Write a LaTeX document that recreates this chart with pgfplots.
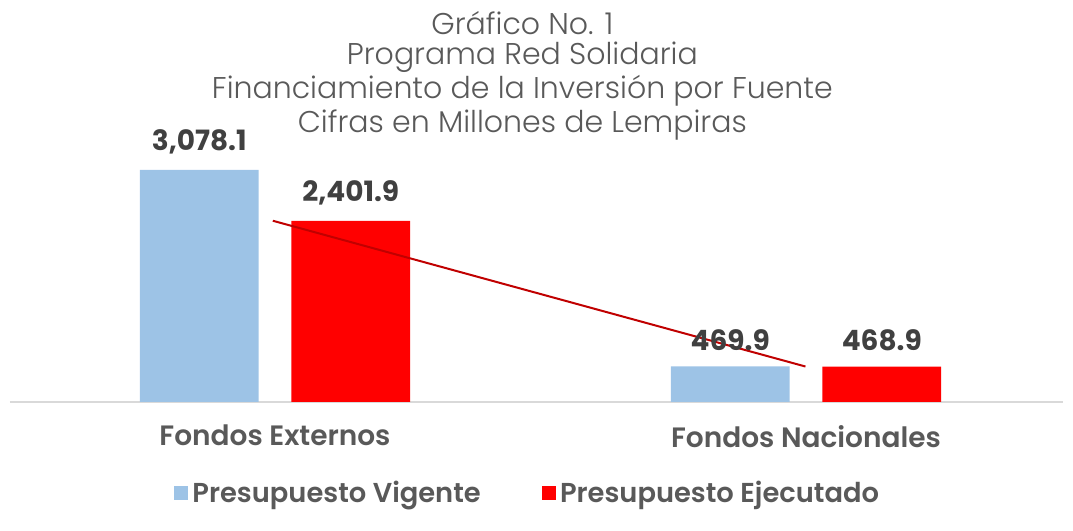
\documentclass[border=0pt]{standalone}
\usepackage{pgfplots}
\pgfplotsset{compat=1.18}
\usepackage{fontspec}
\setmainfont{Poppins}
\newfontfamily\lightfont{Poppins Light}
\newfontfamily\semifont{Poppins SemiBold}
\definecolor{bluebar}{HTML}{9DC3E6}
\definecolor{redbar}{HTML}{FF0000}
\definecolor{trend}{HTML}{C00000}
\definecolor{txt}{HTML}{595959}
\definecolor{lbl}{HTML}{404040}
\begin{document}
\begin{tikzpicture}
\useasboundingbox (-7.5pt,-96.75pt) rectangle (797.5pt,301.5pt);
\begin{axis}[
  at={(0,0)}, anchor=south west,
  scale only axis,
  width=790pt, height=198pt,
  xmin=-0.499, xmax=1.484, ymin=0, ymax=3500,
  axis x line=bottom, axis y line=none,
  x axis line style={draw=black!15, line width=1pt, -},
  xtick={0,1},
  xticklabels={Fondos Externos, Fondos Nacionales},
  major tick length=0pt,
  xticklabel style={font=\fontsize{21}{24}\selectfont\semifont, text=txt, yshift=-14pt},
  /pgf/number format/.cd, fixed, fixed zerofill, precision=1, 1000 sep={,}, assume math mode=true,
  /pgfplots/.cd,
  legend style={at={(0.492,-0.345)}, anchor=center, draw=none, legend columns=2,
    font=\fontsize{20.5}{24}\selectfont\semifont, text=txt,
    /tikz/every odd column/.append style={column sep=1pt},
    /tikz/every even column/.append style={column sep=44pt}},
  legend image code/.code={\fill[#1] (0pt,-5.25pt) rectangle (10.5pt,5.25pt);},
  nodes near coords style={font=\fontsize{21}{24}\selectfont\bfseries, text=lbl, yshift=8pt},
]
\addplot[ybar, bar width=89pt, bar shift=0pt, fill=bluebar, draw=none,
  nodes near coords] coordinates {(-0.1427,3078.1) (0.8573,469.9)};
\addlegendentry{Presupuesto Vigente}
\addplot[ybar, bar width=89pt, bar shift=0pt, fill=redbar, draw=none,
  nodes near coords] coordinates {(0.1427,2401.9) (1.1427,468.9)};
\addlegendentry{Presupuesto Ejecutado}
\addplot[trend, line width=1.5pt, no markers, forget plot] coordinates {(-0.004,2401.9) (0.999,468.9)};
\end{axis}
\begin{scope}[every node/.style={font=\fontsize{22.5}{26}\selectfont\lightfont, text=txt, anchor=center}]
\node at (384.4pt,284.5pt) {Gráfico No. 1};
\node at (384.4pt,258.8pt) {Programa Red Solidaria};
\node at (384.4pt,233.3pt) {Financiamiento de la Inversión por Fuente};
\node at (384.4pt,207.8pt) {Cifras en Millones de Lempiras};
\end{scope}
\end{tikzpicture}
\end{document}
